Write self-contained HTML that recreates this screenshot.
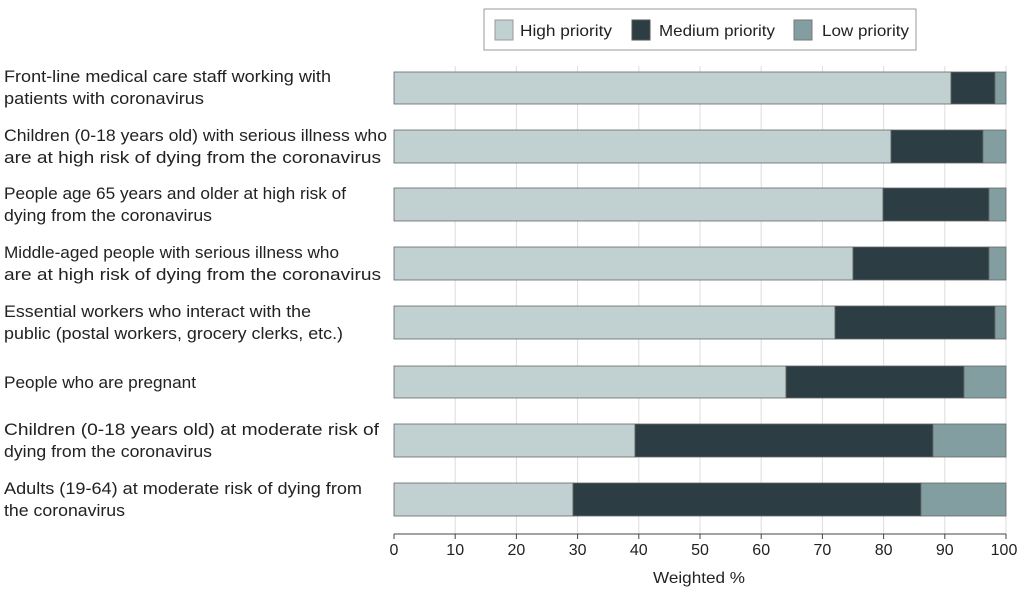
<!DOCTYPE html>
<html><head><meta charset="utf-8"><style>
body{margin:0;background:#fff;}
svg text{font-family:"Liberation Sans Narrow","Liberation Sans",sans-serif;fill:#222;}
</style></head><body>
<svg width="1024" height="594" viewBox="0 0 1024 594" xmlns="http://www.w3.org/2000/svg">
<rect x="484" y="9" width="432" height="41" fill="#fff" stroke="#999" stroke-width="1"/>
<rect x="495" y="20" width="18" height="20" fill="#c1d0d0" stroke="#999"/>
<text x="520" y="36" font-size="16" textLength="92" lengthAdjust="spacingAndGlyphs">High priority</text>
<rect x="632" y="20" width="18" height="20" fill="#2c3e44" stroke="#555"/>
<text x="659" y="36" font-size="16" textLength="116" lengthAdjust="spacingAndGlyphs">Medium priority</text>
<rect x="794" y="20" width="18" height="20" fill="#829ea0" stroke="#777"/>
<text x="822" y="36" font-size="16" textLength="87" lengthAdjust="spacingAndGlyphs">Low priority</text>
<g stroke="#ddd" stroke-width="1">
<line x1="455.2" y1="66" x2="455.2" y2="534"/><line x1="516.4" y1="66" x2="516.4" y2="534"/>
<line x1="577.6" y1="66" x2="577.6" y2="534"/><line x1="638.8" y1="66" x2="638.8" y2="534"/>
<line x1="700" y1="66" x2="700" y2="534"/><line x1="761.2" y1="66" x2="761.2" y2="534"/>
<line x1="822.4" y1="66" x2="822.4" y2="534"/><line x1="883.6" y1="66" x2="883.6" y2="534"/>
<line x1="944.8" y1="66" x2="944.8" y2="534"/><line x1="1006" y1="66" x2="1006" y2="534"/>
</g>
<g stroke="#666" stroke-width="0.8">
<rect x="394" y="72" width="557" height="32" fill="#c1d0d0"/><rect x="951" y="72" width="44" height="32" fill="#2c3e44"/><rect x="995" y="72" width="11" height="32" fill="#829ea0"/>
<rect x="394" y="130" width="497" height="33" fill="#c1d0d0"/><rect x="891" y="130" width="92" height="33" fill="#2c3e44"/><rect x="983" y="130" width="23" height="33" fill="#829ea0"/>
<rect x="394" y="188" width="489" height="33" fill="#c1d0d0"/><rect x="883" y="188" width="106" height="33" fill="#2c3e44"/><rect x="989" y="188" width="17" height="33" fill="#829ea0"/>
<rect x="394" y="247" width="459" height="33" fill="#c1d0d0"/><rect x="853" y="247" width="136" height="33" fill="#2c3e44"/><rect x="989" y="247" width="17" height="33" fill="#829ea0"/>
<rect x="394" y="306" width="441" height="33" fill="#c1d0d0"/><rect x="835" y="306" width="160" height="33" fill="#2c3e44"/><rect x="995" y="306" width="11" height="33" fill="#829ea0"/>
<rect x="394" y="366" width="392" height="32" fill="#c1d0d0"/><rect x="786" y="366" width="178" height="32" fill="#2c3e44"/><rect x="964" y="366" width="42" height="32" fill="#829ea0"/>
<rect x="394" y="424" width="241" height="33" fill="#c1d0d0"/><rect x="635" y="424" width="298" height="33" fill="#2c3e44"/><rect x="933" y="424" width="73" height="33" fill="#829ea0"/>
<rect x="394" y="483" width="179" height="33" fill="#c1d0d0"/><rect x="573" y="483" width="348" height="33" fill="#2c3e44"/><rect x="921" y="483" width="85" height="33" fill="#829ea0"/>
</g>
<line x1="394" y1="534" x2="1006" y2="534" stroke="#444" stroke-width="1"/>
<g stroke="#444" stroke-width="1">
<line x1="394" y1="534" x2="394" y2="539"/><line x1="455.2" y1="534" x2="455.2" y2="539"/><line x1="516.4" y1="534" x2="516.4" y2="539"/><line x1="577.6" y1="534" x2="577.6" y2="539"/><line x1="638.8" y1="534" x2="638.8" y2="539"/><line x1="700" y1="534" x2="700" y2="539"/><line x1="761.2" y1="534" x2="761.2" y2="539"/><line x1="822.4" y1="534" x2="822.4" y2="539"/><line x1="883.6" y1="534" x2="883.6" y2="539"/><line x1="944.8" y1="534" x2="944.8" y2="539"/><line x1="1006" y1="534" x2="1006" y2="539"/>
</g>
<g font-size="16" text-anchor="middle">
<text x="394" y="555">0</text><text x="455.2" y="555">10</text><text x="516.4" y="555">20</text><text x="577.6" y="555">30</text><text x="638.8" y="555">40</text><text x="700" y="555">50</text><text x="761.2" y="555">60</text><text x="822.4" y="555">70</text><text x="883.6" y="555">80</text><text x="944.8" y="555">90</text><text x="1004" y="555">100</text>
<text x="699" y="583" textLength="92" lengthAdjust="spacingAndGlyphs">Weighted %</text>
</g>
<g font-size="17" lengthAdjust="spacingAndGlyphs">
<text x="4" y="82" textLength="327" lengthAdjust="spacingAndGlyphs">Front-line medical care staff working with</text>
<text x="4" y="104" textLength="200" lengthAdjust="spacingAndGlyphs">patients with coronavirus</text>
<text x="4" y="141" textLength="383" lengthAdjust="spacingAndGlyphs">Children (0-18 years old) with serious illness who</text>
<text x="4" y="163" textLength="377" lengthAdjust="spacingAndGlyphs">are at high risk of dying from the coronavirus</text>
<text x="4" y="199" textLength="342" lengthAdjust="spacingAndGlyphs">People age 65 years and older at high risk of</text>
<text x="4" y="221" textLength="208" lengthAdjust="spacingAndGlyphs">dying from the coronavirus</text>
<text x="4" y="258" textLength="335" lengthAdjust="spacingAndGlyphs">Middle-aged people with serious illness who</text>
<text x="4" y="280" textLength="377" lengthAdjust="spacingAndGlyphs">are at high risk of dying from the coronavirus</text>
<text x="4" y="317" textLength="307" lengthAdjust="spacingAndGlyphs">Essential workers who interact with the</text>
<text x="4" y="339" textLength="339" lengthAdjust="spacingAndGlyphs">public (postal workers, grocery clerks, etc.)</text>
<text x="4" y="388" textLength="192" lengthAdjust="spacingAndGlyphs">People who are pregnant</text>
<text x="4" y="435" textLength="375" lengthAdjust="spacingAndGlyphs">Children (0-18 years old) at moderate risk of</text>
<text x="4" y="457" textLength="208" lengthAdjust="spacingAndGlyphs">dying from the coronavirus</text>
<text x="4" y="494" textLength="358" lengthAdjust="spacingAndGlyphs">Adults (19-64) at moderate risk of dying from</text>
<text x="4" y="516" textLength="121" lengthAdjust="spacingAndGlyphs">the coronavirus</text>
</g>
</svg>
</body></html>
